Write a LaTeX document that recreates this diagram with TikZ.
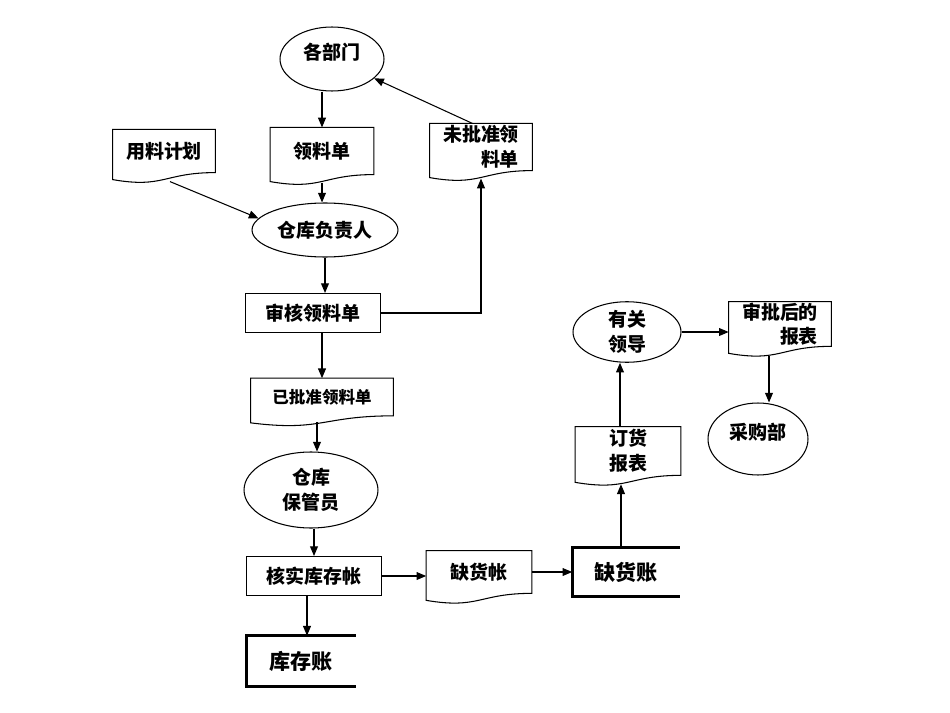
\documentclass[tikz,border=0pt]{standalone}
\usepackage{fontspec}
\setmainfont{Noto Sans CJK SC}
\usetikzlibrary{shapes.geometric,arrows.meta,calc}

\tikzset{
  thinline/.style={line width=0.6pt},
  arr/.style={line width=0.6pt,-{Triangle[length=5.5pt,width=4.5pt]}},
  docbox/.style={inner sep=0pt,align=center,font=\bfseries\fontsize{10.8}{14}\selectfont},
  procbox/.style={draw,line width=0.6pt,inner sep=0pt,minimum width=2.7cm,minimum height=0.78cm,font=\bfseries\fontsize{10.8}{14}\selectfont},
  ovalbox/.style={ellipse,draw,line width=0.6pt,inner sep=0pt,align=center,font=\bfseries\fontsize{10.8}{14}\selectfont},
  storebox/.style={inner sep=0pt,font=\bfseries\fontsize{12}{14}\selectfont}
}
\newcommand{\docshape}[1]{%
  \draw[thinline] (#1.north west) -- (#1.north east) -- (#1.south east)
    .. controls (#1.south) and ($(#1.south)+(0,16)$) .. ($(#1.south west)+(0,7)$) -- cycle;}
\newcommand{\storeshape}[1]{%
  \draw[line width=1.7pt] (#1.north east) -- (#1.north west) -- (#1.south west) -- (#1.south east);}

\begin{document}
\begin{tikzpicture}[x=0.02cm,y=-0.02cm]
			\useasboundingbox (0,0) rectangle (950,713);
			\node[ovalbox,minimum width=2.08cm,minimum height=1.28cm,text depth=0.3cm] (bumen) at (332,59) {各部门};
			\node[docbox,minimum width=2.04cm,minimum height=0.85cm] (yongliao) at (164,151) {用料计划};
			\node[docbox,minimum width=2.06cm,minimum height=0.93cm] (lingliao) at (322,151) {领料单};
			\node[docbox,minimum width=2.04cm,minimum height=0.93cm,align=right] (weipi) at (481,147) {未批准领\\料单};
			\node[ovalbox,minimum width=2.92cm,minimum height=1.08cm] (fuzeren) at (325,230) {仓库负责人};
			\node[procbox] (shenhe) at (313,313) {审核领料单};
			\node[docbox,minimum width=2.84cm,minimum height=0.74cm,font=\bfseries\fontsize{9.4}{12}\selectfont] (yipi) at (322,397) {已批准领料单};
			\node[ovalbox,minimum width=2.68cm,minimum height=1.52cm] (baoguan) at (311,490) {仓库\\保管员};
			\node[procbox] (hedui) at (314,576) {核实库存帐};
			\node[docbox,minimum width=2.1cm,minimum height=0.84cm] (quehuo) at (479,572) {缺货帐};
			\node[storebox,minimum width=2.14cm,minimum height=0.98cm] (quehuozhang) at (626,572) {缺货账};
			\node[storebox,minimum width=2.18cm,minimum height=1cm] (kucun) at (301,661) {库存账};
			\node[docbox,minimum width=2.1cm,minimum height=0.96cm] (dinghuo) at (628,451) {订货\\报表};
			\node[ovalbox,minimum width=2.16cm,minimum height=1.2cm] (youguan) at (627,332) {有关\\领导};
			\node[docbox,minimum width=2.04cm,minimum height=0.88cm,align=right] (shenpi) at (780,324) {审批后的\\报表};
			\node[ovalbox,minimum width=2cm,minimum height=1.44cm,text depth=0.3cm] (caigou) at (758,439) {采购部};

			\docshape{yongliao}
			\docshape{lingliao}
			\docshape{weipi}
			\docshape{yipi}
			\docshape{quehuo}
			\docshape{dinghuo}
			\docshape{shenpi}
			\storeshape{quehuozhang}
			\storeshape{kucun}

			\draw[arr] (lingliao.north |- bumen.south) -- (lingliao.north);
			\draw[arr] ($(yongliao.south)+(6,9)$) -- (fuzeren.170);
			\draw[arr] ($(lingliao.south)+(0,8)$) -- (lingliao.south |- fuzeren.north);
			\draw[arr] (weipi.110) -- (bumen);
			\draw[arr] (fuzeren.south) -- (fuzeren.south |- shenhe.north);
			\draw[arr] (shenhe.east) -| ($(weipi.south)+(0,8)$);
			\draw[arr] (yipi.north |- shenhe.south) -- (yipi.north);
			\draw[arr] ($(yipi.south)+(-5,6)$) coordinate (p1) -- (p1 |- baoguan.north);
			\draw[arr] (hedui.north |- baoguan.south) -- (hedui.north);
			\draw[arr] (hedui.east) -- (hedui.east -| quehuo.west);
			\draw[arr] (quehuo.east) -- (quehuozhang.west);
			\draw[arr] ($(hedui.south)+(-7,0)$) coordinate (p2) -- (p2 |- kucun.north);
			\coordinate (p4) at ($(dinghuo.south)+(0,9)$);
			\draw[arr] ($(quehuozhang.north)+(-5,0)$) coordinate (p3) -- (p3 |- p4);
			\draw[arr] ($(dinghuo.north)+(-8,0)$) coordinate (p5) -- (p5 |- youguan.south);
			\draw[arr] (youguan.east) -- (youguan.east -| shenpi.west);
			\draw[arr] ($(shenpi.south)+(-11,10)$) coordinate (p6) -- (p6 |- caigou.north);
\end{tikzpicture}
\end{document}
